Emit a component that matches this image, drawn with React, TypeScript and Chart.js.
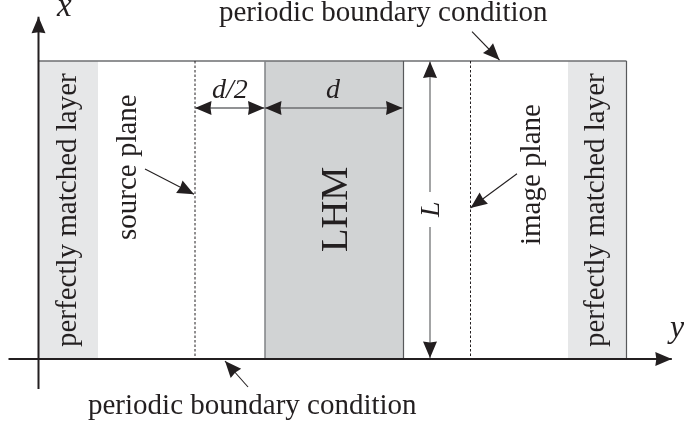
import React, { useEffect, useRef } from "react";
import { Chart, registerables } from "chart.js";

Chart.register(...registerables);

// Diagram units: origin at the axes' crossing; one unit is one grid step of the sketch.
const L = 298;
const pmlLeft = [0, 59.5];
const lhm = [226.5, 365];
const pmlRight = [529.5, 588];
const sourcePlane = 156.5;
const imagePlane = 432;
const lArrowX = 391.5;
const lGap = [132, 167];
const dimY = 251;

const regionColors = { pml: "#e6e7e8", lhm: "#d1d3d4" };
const ink = "#231f20";
const gray = "#6d6e71";

type Seg = { pts: number[][]; color: string; width: number; dash?: number[]; start?: boolean; end?: boolean };

const boxEdges: Seg[] = [
  { pts: [[0, L], [588, L]], color: gray, width: 1.5 },
  { pts: [[588, L], [588, 0]], color: "#58595b", width: 1.2 },
  { pts: [[lhm[0], L], [lhm[0], 0]], color: "#808285", width: 1.5 },
  { pts: [[lhm[1], L], [lhm[1], 0]], color: "#58595b", width: 1.2 },
  { pts: [[sourcePlane, L], [sourcePlane, 0]], color: ink, width: 1, dash: [2.5, 2] },
  { pts: [[imagePlane, L], [imagePlane, 0]], color: ink, width: 1, dash: [2.5, 2] },
];

const axes: Seg[] = [
  { pts: [[0, -30], [0, 342.3]], color: ink, width: 2, end: true },
  { pts: [[-30, 0], [633.3, 0]], color: ink, width: 2, end: true },
];

const dimensions: Seg[] = [
  { pts: [[sourcePlane, dimY], [lhm[0] - 0.5, dimY]], color: gray, width: 1.3, start: true, end: true },
  { pts: [[lhm[0], dimY], [lhm[1] - 1, dimY]], color: gray, width: 1.3, start: true, end: true },
  { pts: [[lArrowX, L - 0.5], [lArrowX, lGap[1]]], color: "#58595b", width: 1.1, start: true },
  { pts: [[lArrowX, lGap[0]], [lArrowX, 1]], color: "#58595b", width: 1.1, end: true },
];

const pointers: Seg[] = [
  { pts: [[106.5, 190], [155.5, 164.7]], color: ink, width: 1.1, end: true },
  { pts: [[478.5, 185.3], [432, 151]], color: ink, width: 1.1, end: true },
  { pts: [[433.5, 327.3], [461, 299]], color: ink, width: 1.1, end: true },
  { pts: [[209.5, -28], [186.5, -2]], color: ink, width: 1.1, end: true },
];

const TOP_LABEL = "periodic boundary condition";
const PML_LABEL = "perfectly matched layer";

const labels = [
  { text: TOP_LABEL, x: 180.5, y: 338, rot: 0, font: "29px" },
  { text: TOP_LABEL, x: 49.5, y: -55, rot: 0, font: "29px" },
  { text: "x", x: 18.5, y: 343.5, rot: 0, font: "italic 33px" },
  { text: "y", x: 631.5, y: 22, rot: 0, font: "italic 32px" },
  { text: "d/2", x: 173.5, y: 261, rot: 0, font: "italic 28px" },
  { text: "d", x: 287.5, y: 261, rot: 0, font: "italic 28px" },
  { text: PML_LABEL, x: 37.5, y: 12, rot: -90, font: "29px" },
  { text: PML_LABEL, x: 565.5, y: 12, rot: -90, font: "29px" },
  { text: "source plane", x: 97, y: 119, rot: -90, font: "29px" },
  { text: "image plane", x: 501, y: 114, rot: -90, font: "29px" },
  { text: "LHM", x: 308.5, y: 107, rot: -90, font: "38.5px" },
  { text: "L", x: 400.5, y: 142, rot: -90, font: "italic 28px" },
];

const fillSet = (range: number[], color: string) => ({
  data: [{ x: range[0], y: L }, { x: range[1], y: L }],
  showLine: true,
  pointRadius: 0,
  borderWidth: 0,
  borderColor: color,
  backgroundColor: color,
  fill: { value: 0 },
  clip: false as const,
});

const segSet = (s: Seg) => ({
  data: s.pts.map(([x, y]) => ({ x, y })),
  showLine: true,
  pointRadius: 0,
  borderWidth: s.width,
  borderColor: s.color,
  borderDash: s.dash ?? [],
  fill: false,
  clip: false as const,
  arrowStart: s.start,
  arrowEnd: s.end,
});

function head(ctx: CanvasRenderingContext2D, tx: number, ty: number, fx: number, fy: number) {
  const a = Math.atan2(ty - fy, tx - fx);
  const len = 16.5;
  const hw = 7;
  ctx.save();
  ctx.translate(tx, ty);
  ctx.rotate(a);
  ctx.fillStyle = ink;
  ctx.beginPath();
  ctx.moveTo(0, 0);
  ctx.lineTo(-len, -hw);
  ctx.lineTo(-len + 1, 0);
  ctx.lineTo(-len, hw);
  ctx.closePath();
  ctx.fill();
  ctx.restore();
}

const decorations = {
  id: "decorations",
  afterDatasetsDraw(chart: any) {
    const { ctx, scales } = chart;
    const sx = scales.x;
    const sy = scales.y;
    chart.data.datasets.forEach((ds: any) => {
      const p = ds.data;
      const n = p.length - 1;
      if (ds.arrowEnd) {
        head(ctx, sx.getPixelForValue(p[n].x), sy.getPixelForValue(p[n].y), sx.getPixelForValue(p[n - 1].x), sy.getPixelForValue(p[n - 1].y));
      }
      if (ds.arrowStart) {
        head(ctx, sx.getPixelForValue(p[0].x), sy.getPixelForValue(p[0].y), sx.getPixelForValue(p[1].x), sy.getPixelForValue(p[1].y));
      }
    });
    labels.forEach((t) => {
      ctx.save();
      ctx.translate(sx.getPixelForValue(t.x), sy.getPixelForValue(t.y));
      ctx.rotate((t.rot * Math.PI) / 180);
      ctx.font = `${t.font} "Liberation Serif", serif`;
      ctx.fillStyle = ink;
      ctx.textAlign = "left";
      ctx.textBaseline = "alphabetic";
      ctx.fillText(t.text, 0, 0);
      ctx.restore();
    });
  },
};

export default function App() {
  const ref = useRef<HTMLCanvasElement | null>(null);
  useEffect(() => {
    const datasets: any[] = [
      fillSet(pmlLeft, regionColors.pml),
      fillSet(pmlRight, regionColors.pml),
      fillSet(lhm, regionColors.lhm),
      ...[...boxEdges, ...axes, ...dimensions, ...pointers].map(segSet),
    ];
    datasets.forEach((d, i) => (d.order = datasets.length - i));
    const chart = new Chart(ref.current as HTMLCanvasElement, {
      type: "scatter",
      data: { datasets },
      options: {
        animation: false,
        responsive: false,
        layout: { padding: 0 },
        plugins: { legend: { display: false }, tooltip: { enabled: false }, title: { display: false } },
        scales: {
          x: { type: "linear", min: -38.5, max: 645.5, display: false },
          y: { type: "linear", min: -66, max: 359, display: false },
        },
      },
      plugins: [decorations],
    });
    return () => chart.destroy();
  }, []);
  return (
    <div style={{ position: "absolute", left: 0, top: 0, width: 684, height: 425, background: "#fff" }}>
      <canvas ref={ref} width={684} height={425} style={{ display: "block" }} />
    </div>
  );
}
